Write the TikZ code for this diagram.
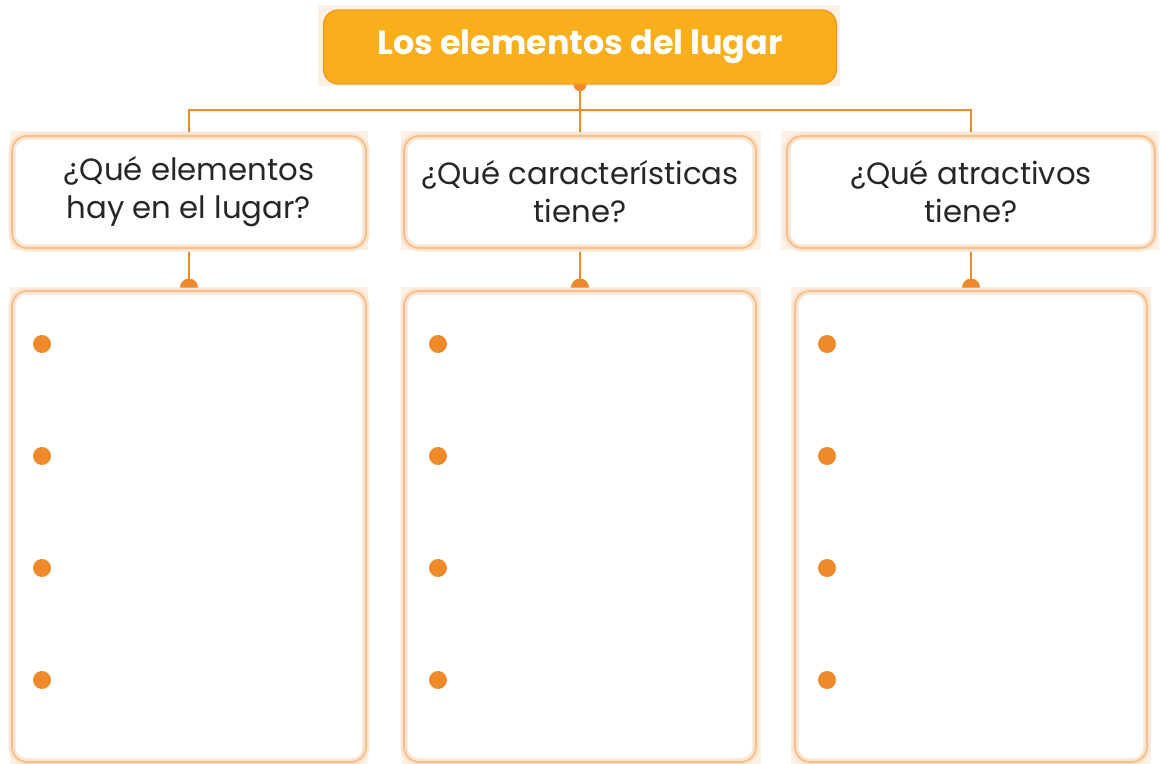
\documentclass[tikz,border=0pt]{standalone}
\usepackage{fontspec}
\setmainfont{Poppins}
\usetikzlibrary{backgrounds}

\definecolor{lugarorange}{HTML}{F9AE1B}
\definecolor{lugaredge}{HTML}{F29B1F}
\definecolor{lugarline}{HTML}{EE8A2A}
\definecolor{lugarrim}{HTML}{F6BE8A}
\definecolor{lugarpale}{HTML}{FDF1E6}
\definecolor{lugartext}{HTML}{262626}

\newcommand\lugartitlestyle{\fontsize{19}{24}\selectfont\bfseries}
\newcommand\lugarquestionstyle{\fontsize{17.5}{21.5}\selectfont}
\newcommand\lugarcorner{.3cm}

\tikzset{
  lugartitle/.style={rounded corners=\lugarcorner, fill=lugarorange, draw=lugaredge,
    line width=.8pt, minimum width=10.26cm, minimum height=1.48cm,
    text=white, font=\lugartitlestyle},
  lugarbox/.style={rounded corners=\lugarcorner, fill=white, draw=lugarrim!40,
    line width=4pt, postaction={draw=lugarrim, line width=1pt},
    text=lugartext, align=center, font=\lugarquestionstyle},
  lugarlink/.style={draw=lugarline, line width=1.3pt},
  lugardot/.style={fill=lugarline},
}

\begin{document}
\begin{tikzpicture}[x=.02cm, y=-.02cm]
  \useasboundingbox (0,0) rectangle (1161,764);
  % title and questions
  \node[lugartitle] (title) at (580,47) {Los elementos del lugar};
  \node[lugarbox, minimum width=7.08cm, minimum height=2.24cm] (q1) at (189,192) {¿Qué elementos\\hay en el lugar?};
  \node[lugarbox, minimum width=7.04cm, minimum height=2.24cm] (q2) at (580,192) {¿Qué características\\tiene?};
  \node[lugarbox, minimum width=7.36cm, minimum height=2.24cm] (q3) at (971,192) {¿Qué atractivos\\tiene?};
  % answer boxes
  \node[lugarbox, minimum width=7.08cm, minimum height=9.42cm] (a1) at (189,526.5) {};
  \node[lugarbox, minimum width=7.04cm, minimum height=9.42cm] (a2) at (580,526.5) {};
  \node[lugarbox, minimum width=7.04cm, minimum height=9.42cm] (a3) at (971,526.5) {};
  \coordinate (bus) at (580,110);
  \begin{scope}[on background layer]
    \fill[lugarpale] (318,5) rectangle (840,86);
    \fill[lugarpale] (10,131) rectangle (368,250);
    \fill[lugarpale] (401,131) rectangle (761,250);
    \fill[lugarpale] (781,131) rectangle (1159,250);
    \fill[lugarpale] (10,287) rectangle (368,764);
    \fill[lugarpale] (401,287) rectangle (761,764);
    \fill[lugarpale] (791,287) rectangle (1151,764);
    \draw[lugarlink] (title.south) -- (bus);
    \draw[lugarlink] (q1.north) |- (bus) -| (q3.north);
    \draw[lugarlink] (bus) -- (q2.north);
    \fill[lugardot] (title.south) circle[radius=.13cm];
    \foreach \i in {1,2,3} {
      \draw[lugarlink] (q\i.south) -- (a\i.north);
      \fill[lugardot] (a\i.north) circle[radius=.18cm];
    }
  \end{scope}
  % bullets
  \foreach \x in {42,438,827}
    \foreach \y in {344,456,568,680}
      \fill[lugardot] (\x,\y) circle[radius=.18cm];
\end{tikzpicture}
\end{document}
